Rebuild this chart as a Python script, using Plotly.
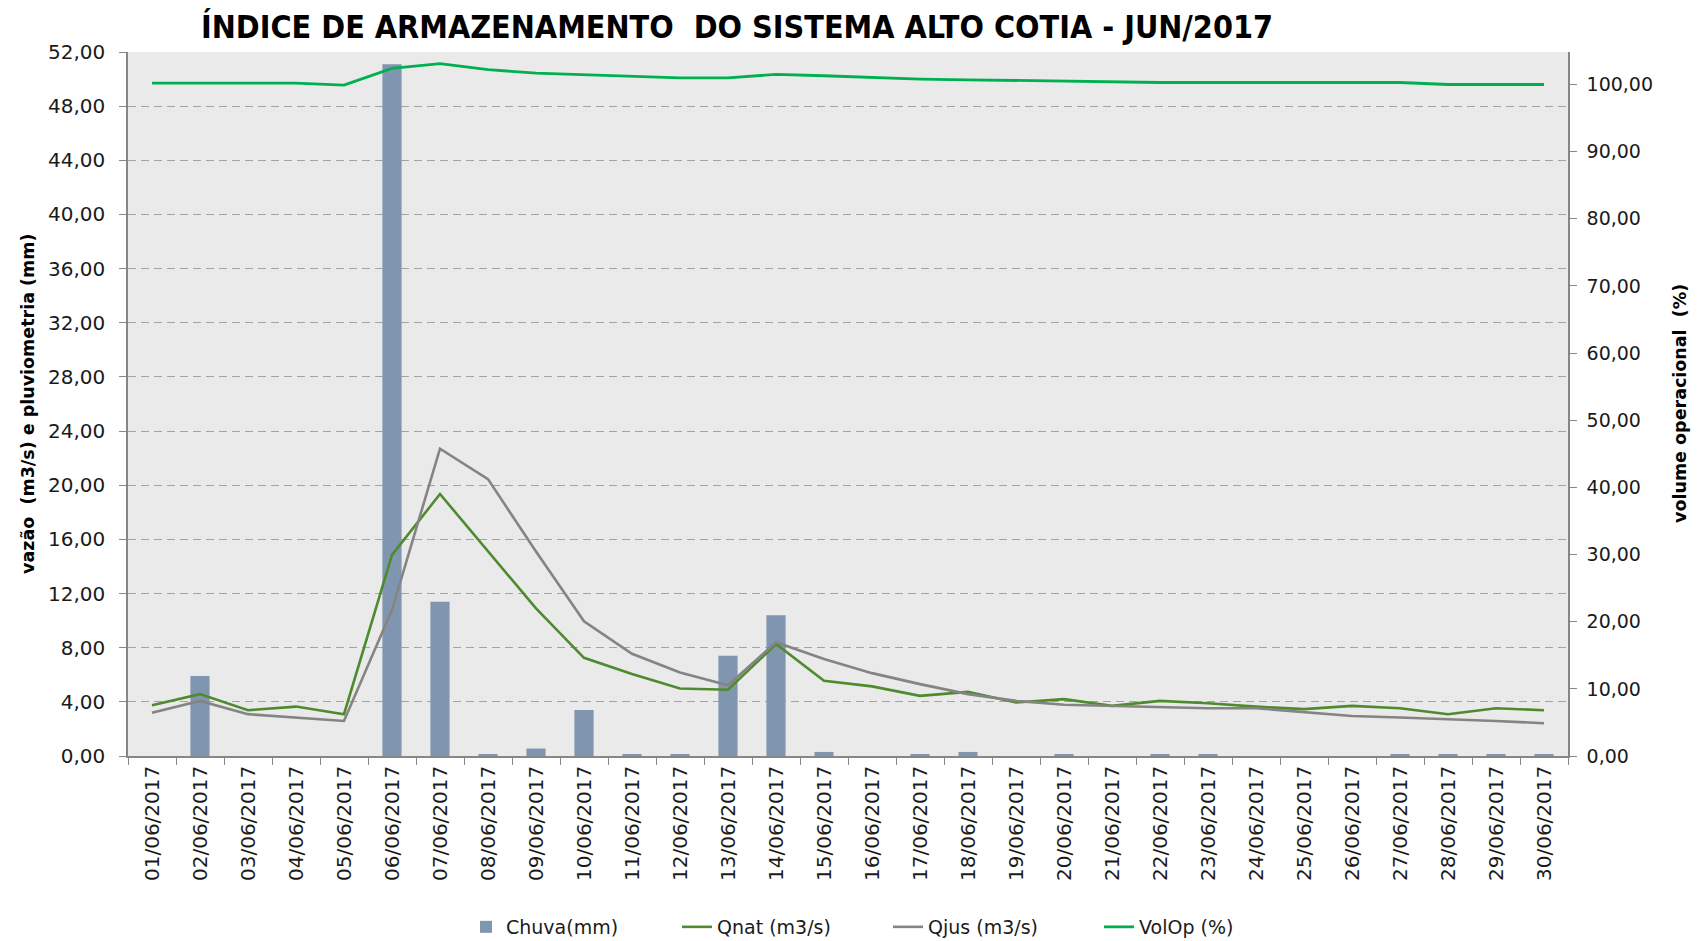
import plotly.graph_objects as go

days = [f"{d:02d}/06/2017" for d in range(1, 31)]

chuva = [0, 5.9, 0, 0, 0, 51.1, 11.4, 0.15, 0.55, 3.4,
         0.15, 0.15, 7.4, 10.4, 0.3, 0, 0.15, 0.3, 0, 0.15,
         0, 0.15, 0.15, 0, 0, 0, 0.15, 0.15, 0.15, 0.15]

qnat = [3.75, 4.57, 3.38, 3.65, 3.09, 14.85, 19.35, 15.1, 10.9, 7.25,
        6.05, 4.99, 4.89, 8.27, 5.56, 5.14, 4.44, 4.74, 3.95, 4.2,
        3.7, 4.07, 3.9, 3.65, 3.46, 3.7, 3.53, 3.09, 3.53, 3.38]

qjus = [3.2, 4.07, 3.09, 2.84, 2.59, 10.8, 22.7, 20.45, 15.1, 9.95,
        7.55, 6.17, 5.23, 8.4, 7.16, 6.12, 5.31, 4.57, 4.07, 3.78,
        3.7, 3.65, 3.53, 3.53, 3.26, 2.96, 2.84, 2.72, 2.59, 2.42]

volop = [100.2, 100.2, 100.2, 100.2, 99.9, 102.4, 103.1, 102.2, 101.7, 101.5,
         101.2, 101.0, 101.0, 101.5, 101.3, 101.0, 100.8, 100.7, 100.6, 100.5,
         100.3, 100.3, 100.3, 100.3, 100.3, 100.3, 100.3, 100.0, 100.0, 100.0]

TXT = "#1a1a1a"
AX = "#868686"
FONT = "DejaVu Sans"

fig = go.Figure()
fig.add_trace(go.Bar(x=days, y=chuva, name="Chuva(mm)",
                     marker=dict(color="#8095B0", line=dict(width=0))))
fig.add_trace(go.Scatter(x=days, y=qnat, name="Qnat (m3/s)", mode="lines",
                         line=dict(color="#4E8A2E", width=2.6)))
fig.add_trace(go.Scatter(x=days, y=qjus, name="Qjus (m3/s)", mode="lines",
                         line=dict(color="#848484", width=2.6)))
fig.add_trace(go.Scatter(x=days, y=volop, name="VolOp (%)", mode="lines",
                         yaxis="y2", line=dict(color="#00B050", width=2.8)))

fig.update_layout(
    width=1699, height=941,
    margin=dict(l=128, r=131, t=52, b=185, autoexpand=False),
    paper_bgcolor="white",
    plot_bgcolor="#EAEAEA",
    separators=",.",
    bargap=0.6,
    font=dict(family=FONT, color=TXT, size=18),
    title=dict(text="<b>ÍNDICE DE ARMAZENAMENTO  DO SISTEMA ALTO COTIA - JUN/2017</b>",
               font=dict(family="Liberation Sans Narrow, DejaVu Sans Condensed, Arial Narrow, sans-serif",
                         size=32, color="black"),
               x=(737 - 128) / 1440, xanchor="center", xref="paper",
               y=1 - 27 / 941, yanchor="middle", yref="container"),
    xaxis=dict(type="category", range=[-0.5, 29.5], tickangle=-90,
               tickson="boundaries", ticks="outside", ticklen=7, tickcolor=AX,
               showline=True, linecolor=AX, linewidth=1.5, showgrid=False,
               automargin=False,
               tickfont=dict(family=FONT, size=20, color=TXT)),
    yaxis=dict(range=[0, 52], dtick=4, tickformat=".2f",
               ticks="outside", ticklen=7, tickcolor=AX,
               showline=True, linecolor=AX, linewidth=1.5,
               showgrid=True, gridcolor="#A3A3A3", gridwidth=1.3, griddash="8px,5px",
               zeroline=False, automargin=False, ticklabelstandoff=10,
               tickfont=dict(family=FONT, size=20, color=TXT)),
    yaxis2=dict(range=[0, 104.84], dtick=10, tickformat=".2f",
                overlaying="y", side="right",
                ticks="outside", ticklen=7, tickcolor=AX,
                showline=True, linecolor=AX, linewidth=1.5,
                showgrid=False, zeroline=False, automargin=False,
                ticklabelstandoff=6,
                tickfont=dict(family=FONT, size=19, color=TXT)),
    legend=dict(orientation="h", x=888 / 1699, xanchor="center", xref="container",
                y=1 - 927 / 941, yanchor="middle", yref="container",
                font=dict(family=FONT, size=19, color=TXT),
                bgcolor="rgba(0,0,0,0)", entrywidth=166, entrywidthmode="pixels"),
    showlegend=True,
    annotations=[
        dict(text="<b>vazão  (m3/s) e pluviometria (mm)</b>", textangle=-90,
             x=(28 - 128) / 1440, y=0.5, xref="paper", yref="paper",
             xanchor="center", yanchor="middle", showarrow=False,
             font=dict(family=FONT, size=17.5, color="black")),
        dict(text="<b>volume operacional  (%)</b>", textangle=-90,
             x=(1680 - 128) / 1440, y=0.5, xref="paper", yref="paper",
             xanchor="center", yanchor="middle", showarrow=False,
             font=dict(family=FONT, size=17.5, color="black")),
    ],
)

fig.write_html("out.html", config={"displayModeBar": False},
               post_script="document.body.style.margin='0';document.body.style.overflow='hidden';")
